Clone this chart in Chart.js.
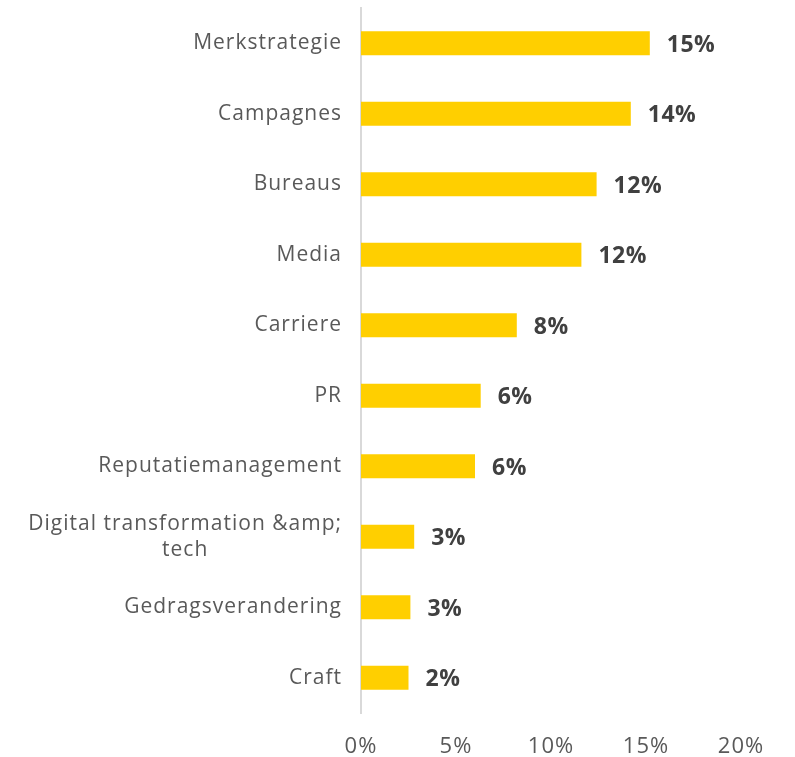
<!DOCTYPE html>
<html>
<head>
<meta charset="utf-8">
<script src="https://cdn.jsdelivr.net/npm/chart.js@4"></script>
<style>
  html, body { margin: 0; padding: 0; background: #fff; }
  #wrap { width: 795px; height: 757px; position: relative; }
</style>
</head>
<body>
<div id="wrap"><canvas id="barChart"></canvas></div>
<script>
// categories, top to bottom
const categories = [
    "Merkstrategie",
    "Campagnes",
    "Bureaus",
    "Media",
    "Carriere",
    "PR",
    "Reputatiemanagement",
    ["Digital transformation &amp;", "tech"],
    "Gedragsverandering",
    "Craft"
];
// share in percent
const shares = [15.2, 14.2, 12.4, 11.6, 8.2, 6.3, 6.0, 2.8, 2.6, 2.5];
// printed labels next to the bars
const shareLabels = ["15%", "14%", "12%", "12%", "8%", "6%", "6%", "3%", "3%", "2%"];
const xTicks = [0, 5, 10, 15, 20];

const fontFamily = "'Open Sans', 'DejaVu Sans', sans-serif";

// wider tracking, closer to the original font
const spacingPlugin = {
    id: "spacingPlugin",
    beforeDraw(chart) {
        chart.ctx.letterSpacing = "1px";
    }
};

// draws the category names (right-aligned block, lines centred) and value labels
const labelPlugin = {
    id: "labelPlugin",
    afterDatasetsDraw(chart) {
        const ctx = chart.ctx;
        const yScale = chart.scales.y;
        const meta = chart.getDatasetMeta(0);

        ctx.save();
        ctx.textBaseline = "middle";

        // value labels
        ctx.letterSpacing = "0.5px";
        ctx.font = "bold 23px " + fontFamily;
        ctx.fillStyle = "#404040";
        ctx.textAlign = "left";
        meta.data.forEach((bar, i) => {
            ctx.fillText(shareLabels[i], bar.x + 17, bar.y + 2);
        });

        // category labels
        ctx.letterSpacing = "1px";
        ctx.font = "21px " + fontFamily;
        ctx.fillStyle = "#595959";
        const rightEdge = chart.chartArea.left - 19;
        categories.forEach((cat, i) => {
            const y = yScale.getPixelForValue(i);
            const lines = Array.isArray(cat) ? cat : [cat];
            const widest = Math.max(...lines.map(l => ctx.measureText(l).width));
            const lineH = 26;
            lines.forEach((line, j) => {
                const ly = y + (j - (lines.length - 1) / 2) * lineH;
                if (lines.length > 1) {
                    ctx.textAlign = "center";
                    ctx.fillText(line, rightEdge - widest / 2, ly);
                } else {
                    ctx.textAlign = "right";
                    ctx.fillText(line, rightEdge, ly);
                }
            });
        });
        ctx.restore();
    }
};

const ctx = document.getElementById("barChart").getContext("2d");

new Chart(ctx, {
    type: "bar",
    data: {
        labels: categories,
        datasets: [{
            data: shares,
            backgroundColor: "#FFCF00",
            borderWidth: 0,
            categoryPercentage: 1,
            barPercentage: 0.34
        }]
    },
    options: {
        indexAxis: "y",
        responsive: true,
        maintainAspectRatio: false,
        animation: false,
        layout: {
            padding: { left: 361, right: 54, top: 8, bottom: 0 }
        },
        plugins: {
            legend: { display: false },
            tooltip: { enabled: false }
        },
        scales: {
            x: {
                min: 0,
                max: 20,
                afterBuildTicks(axis) {
                    axis.ticks = xTicks.map(v => ({ value: v }));
                },
                afterFit(axis) {
                    axis.height = 44;
                },
                grid: { display: false, drawTicks: false },
                border: { display: false },
                ticks: {
                    padding: 21,
                    color: "#595959",
                    font: { family: fontFamily, size: 22 },
                    callback: v => v + "%"
                }
            },
            y: {
                grid: { display: false, drawTicks: false },
                border: { display: true, color: "#D9D9D9", width: 2 },
                ticks: { display: false }
            }
        }
    },
    plugins: [spacingPlugin, labelPlugin]
});
</script>
</body>
</html>
